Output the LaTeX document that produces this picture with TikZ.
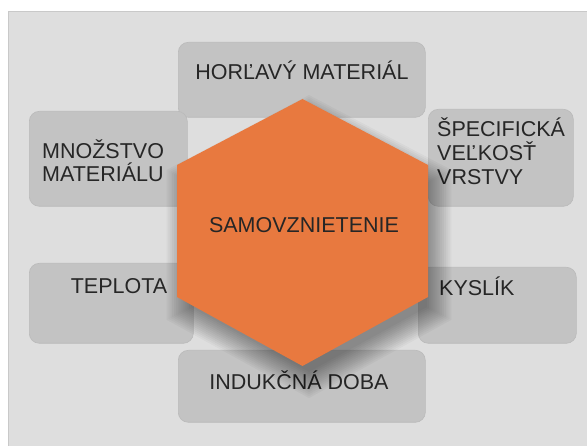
\documentclass[tikz,border=0pt]{standalone}
\usepackage{fontspec}
\setmainfont{Liberation Sans}

\definecolor{panelbg}{HTML}{DEDEDE}
\definecolor{panelline}{HTML}{C9C9C9}
\definecolor{boxfill}{HTML}{C3C3C3}
\definecolor{boxline}{HTML}{BABABA}
\definecolor{hexorange}{HTML}{E8793F}
\definecolor{labeltext}{HTML}{262626}

% hexagon outline relative to its centre
\def\hexoutline{(0,-133) -- (125.5,-67) -- (125.5,65) -- (0,134) -- (-125.5,65) -- (-125.5,-67) -- cycle}

\begin{document}
\begin{tikzpicture}[x=1pt,y=-1pt,
  factor/.style={fill=boxfill, draw=boxline, line width=0.6pt,
    rounded corners=10pt, inner sep=0pt, anchor=north west},
  lbl/.style={inner sep=0pt, text=labeltext,
    font=\fontsize{21.5}{24}\selectfont},
  shadowlayer/.style={fill=black, fill opacity=0.032},
]
\useasboundingbox (0,0) rectangle (587,446);
\fill[white] (0,0) rectangle (587,446);

% light grey panel
\draw[fill=panelbg, draw=panelline, line width=1pt] (8.5,11.5) rectangle (600,460);

% surrounding factor boxes
\node[factor, minimum width=247pt, minimum height=75pt] (horlavy)  at (178,42)  {};
\node[factor, minimum width=158pt, minimum height=95pt] (mnozstvo) at (29,111)  {};
\node[factor, minimum width=145pt, minimum height=97pt] (specif)   at (428,109) {};
\node[factor, minimum width=164pt, minimum height=80pt] (teplota)  at (29,263)  {};
\node[factor, minimum width=158pt, minimum height=76pt] (kyslik)   at (418,267) {};
\node[factor, minimum width=247pt, minimum height=72pt] (indukcna) at (178,350) {};

% box labels
\node[lbl, anchor=base] (tHorlavy) at (302,80) {HORĽAVÝ MATERIÁL};
\node[lbl, anchor=base west] (tMnoz1) at (42,159) {MNOŽSTVO};
\node[lbl, anchor=base west] (tMnoz2) at (42,182) {MATERIÁLU};
\node[lbl, anchor=base west] (tSpec1) at (437,137) {ŠPECIFICKÁ};
\node[lbl, anchor=base west] (tSpec2) at (437,161) {VEĽKOSŤ};
\node[lbl, anchor=base west] (tSpec3) at (437,185) {VRSTVY};
\node[lbl, anchor=base] (tTeplota) at (119,294) {TEPLOTA};
\node[lbl, anchor=base west] (tKyslik) at (439,296) {KYSLÍK};
\node[lbl, anchor=base] (tInduk) at (299,390) {INDUKČNÁ DOBA};

% soft shadow: stacked, slightly enlarged translucent copies
\foreach \s in {0.94,0.955,...,1.141}
  \path[shadowlayer, shift={(309,246)}, scale=\s] \hexoutline;

% central hexagon
\path[fill=hexorange, shift={(302.5,232)}] \hexoutline;
\node[lbl, anchor=base] (tSamo) at (304,233) {SAMOVZNIETENIE};
\end{tikzpicture}
\end{document}
